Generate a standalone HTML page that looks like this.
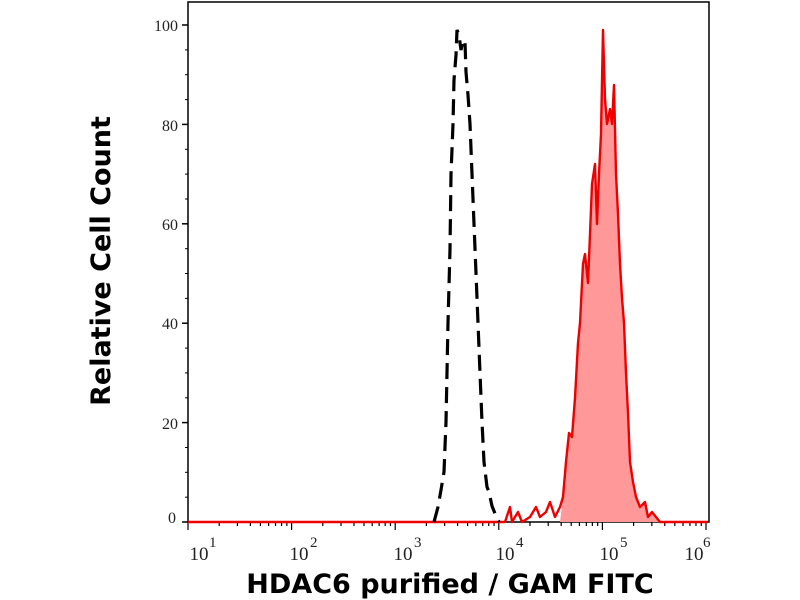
<!DOCTYPE html>
<html><head><style>
body{margin:0;background:#fff;}
svg{display:block;}
.t{font-family:"Liberation Serif",serif;font-size:19px;fill:#222;}
.s{font-family:"Liberation Serif",serif;font-size:15px;fill:#222;}
.lab{font-family:"DejaVu Sans",sans-serif;font-weight:bold;fill:#000;}
</style></head><body>
<svg width="800" height="600" viewBox="0 0 800 600">
<rect width="800" height="600" fill="#fff"/>
<rect x="188" y="2" width="521" height="520" fill="none" stroke="#000" stroke-width="1.5"/>
<g stroke="#000" stroke-width="1.5">
<line x1="182" y1="522" x2="188" y2="522"/>
<line x1="182" y1="422.6" x2="188" y2="422.6"/>
<line x1="182" y1="323.2" x2="188" y2="323.2"/>
<line x1="182" y1="223.8" x2="188" y2="223.8"/>
<line x1="182" y1="124.4" x2="188" y2="124.4"/>
<line x1="182" y1="25" x2="188" y2="25"/>
</g>
<g stroke="#000" stroke-width="1">
<line x1="185" y1="497.2" x2="188" y2="497.2"/><line x1="185" y1="472.3" x2="188" y2="472.3"/><line x1="185" y1="447.5" x2="188" y2="447.5"/>
<line x1="185" y1="397.8" x2="188" y2="397.8"/><line x1="185" y1="372.9" x2="188" y2="372.9"/><line x1="185" y1="348.1" x2="188" y2="348.1"/>
<line x1="185" y1="298.4" x2="188" y2="298.4"/><line x1="185" y1="273.5" x2="188" y2="273.5"/><line x1="185" y1="248.7" x2="188" y2="248.7"/>
<line x1="185" y1="199" x2="188" y2="199"/><line x1="185" y1="174.1" x2="188" y2="174.1"/><line x1="185" y1="149.3" x2="188" y2="149.3"/>
<line x1="185" y1="99.6" x2="188" y2="99.6"/><line x1="185" y1="74.7" x2="188" y2="74.7"/><line x1="185" y1="49.9" x2="188" y2="49.9"/>
</g>
<g class="t" text-anchor="end" style="font-size:16px">
<text x="176" y="523">0</text>
<text x="178" y="429">20</text>
<text x="178" y="329">40</text>
<text x="178" y="230">60</text>
<text x="178" y="131">80</text>
<text x="178" y="31">100</text>
</g>
<g stroke="#000" stroke-width="1.2" id="xt"></g>
<g class="t" text-anchor="middle">
<text x="199" y="560">10</text><text x="299" y="560">10</text><text x="403" y="560">10</text>
<text x="505" y="560">10</text><text x="609" y="560">10</text><text x="694" y="560">10</text>
</g>
<g class="s">
<text x="209" y="547">1</text><text x="310" y="547">2</text><text x="414" y="547">3</text>
<text x="516" y="547">4</text><text x="620" y="547">5</text><text x="703" y="547">6</text>
</g>
<polygon fill="#f99" stroke="none" points="560,522 563,497 566,462 569,433 572,437 575,398 578,343 580,323 583,264 585,254 588,283 590,234 592,184 595,164 597,224 599,174 601,134 603,30 605,99 607,124 610,109 612,124 614,85 616,174 618,214 620,264 622,298 624,323 626,373 628,413 630,462 633,482 636,497 640,507 645,502 648,517 652,512 660,522"/>
<polyline fill="none" stroke="#e00" stroke-width="2.4" stroke-linejoin="round" points="188,522 505,522 510,507 512,522 518,512 522,522 530,517 536,507 540,517 546,512 550,502 555,517 560,507 563,497 566,462 569,433 572,437 575,398 578,343 580,323 583,264 585,254 588,283 590,234 592,184 595,164 597,224 599,174 601,134 603,30 605,99 607,124 610,109 612,124 614,85 616,174 618,214 620,264 622,298 624,323 626,373 628,413 630,462 633,482 636,497 640,507 645,502 648,517 652,512 660,522 708,522"/>
<polyline fill="none" stroke="#000" stroke-width="3.2" stroke-dasharray="16 8" points="434,522 438,507 441,490 444,472 446,422 448,323 450,249 451,174 453,124 454,80 456,55 457,30 459,35 461,50 463,40 465,42 466,72 468,95 470,124 472,174 474,224 476,273 478,323 480,373 482,422 484,462 487,487 489,492 492,506 496,516 499,522"/>
<text class="lab" x="450" y="593" text-anchor="middle" style="font-size:27px">HDAC6 purified / GAM FITC</text>
<text class="lab" transform="translate(110,261) rotate(-90)" text-anchor="middle" style="font-size:27px">Relative Cell Count</text>
<script>
(function(){var g=document.getElementById('xt');var ns='http://www.w3.org/2000/svg';
for(var d=0;d<6;d++){for(var k=1;k<10;k++){var x=188+103.6*(d+Math.log10(k));if(x>709)break;
var l=document.createElementNS(ns,'line');l.setAttribute('x1',x);l.setAttribute('x2',x);l.setAttribute('y1',522);l.setAttribute('y2',k==1?530:526);g.appendChild(l);}}})();
</script>
</svg>
</body></html>
